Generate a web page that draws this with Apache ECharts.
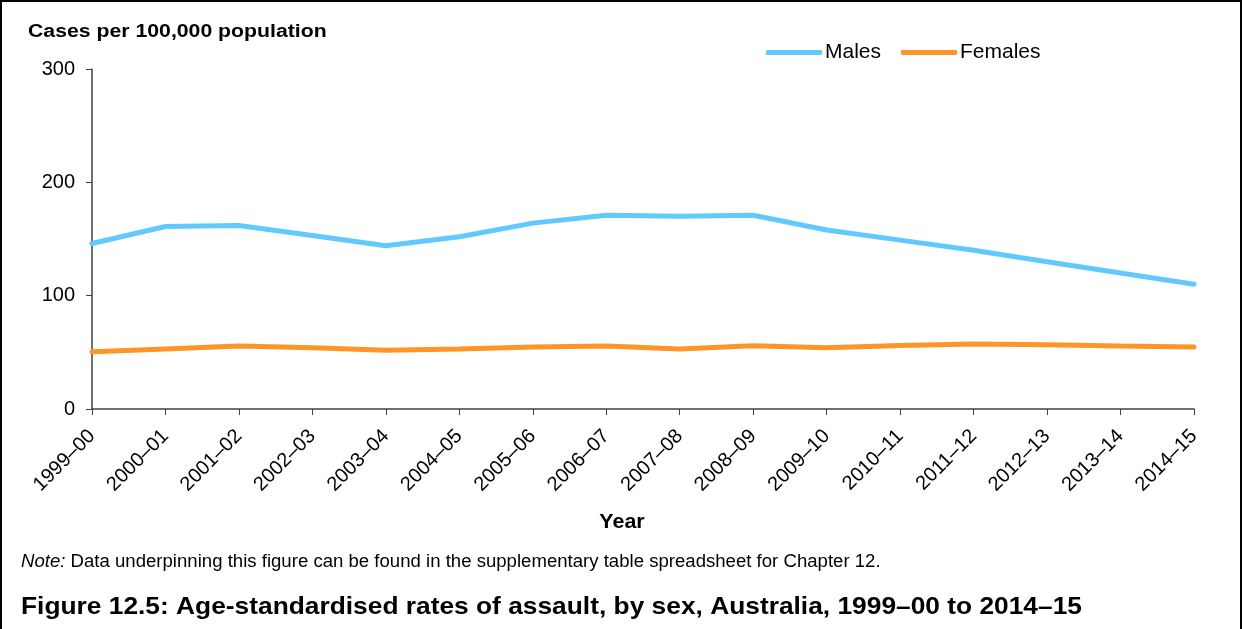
<!DOCTYPE html>
<html><head><meta charset="utf-8">
<script src="https://cdn.jsdelivr.net/npm/echarts@6/dist/echarts.min.js"></script>
<style>
html,body{margin:0;padding:0;background:#fff;}
#wrap{position:absolute;left:0;top:0;width:1242px;height:629px;box-sizing:border-box;border-left:2px solid #000;border-top:2px solid #000;border-right:2px solid #000;}
#chart{position:absolute;left:0;top:0;width:1242px;height:629px;}
</style></head>
<body>
<div id="wrap"></div>
<div id="chart"></div>
<script>
const categories = ["1999–00","2000–01","2001–02","2002–03","2003–04","2004–05","2005–06","2006–07","2007–08","2008–09","2009–10","2010–11","2011–12","2012–13","2013–14","2014–15"];
const males   = [146,161,162,153,144,152,164,171,170,171,158,149,140,130,120,110];
const females = [50.5,53,55.5,54,51.8,53,54.7,55.6,53,55.9,54,56,57.4,56.7,55.6,54.7];
const yTicks = [0,100,200,300];

const font = '"Liberation Sans", Arial, sans-serif';
const chart = echarts.init(document.getElementById('chart'), null, {renderer:'canvas'});
chart.setOption({
  animation:false,
  backgroundColor:'transparent',
  textStyle:{fontFamily:font,color:'#000'},
  legend:{
    left:761, top:37, itemWidth:56, itemHeight:5, itemGap:20, icon:'roundRect',
    textStyle:{fontFamily:font,fontSize:21,color:'#000',padding:[0,0,0,-2]},
    data:['Males','Females']
  },
  grid:{left:92, right:48, top:69, bottom:220, containLabel:false},
  xAxis:{
    type:'category', data:categories, boundaryGap:false,
    axisLine:{lineStyle:{color:'#404040',width:1.5}},
    axisTick:{show:true,length:6,alignWithLabel:true,lineStyle:{color:'#404040'}},
    axisLabel:{rotate:45,fontFamily:font,fontSize:20,color:'#000',margin:24,interval:0}
  },
  yAxis:{
    type:'value', min:yTicks[0], max:yTicks[yTicks.length-1], interval:100,
    axisLine:{show:true,lineStyle:{color:'#404040',width:1.5}},
    axisTick:{show:true,length:6,inside:false,lineStyle:{color:'#404040'}},
    splitLine:{show:false},
    axisLabel:{fontFamily:font,fontSize:20,color:'#000',margin:17}
  },
  graphic:[
    {type:'text',x:28,y:32,scaleX:1.18,style:{text:'Cases per 100,000 population',fontFamily:font,fontSize:18,fontWeight:'bold',fill:'#000',align:'left',verticalAlign:'middle'}},
    {type:'text',x:622,y:523,scaleX:1.1,style:{text:'Year',fontFamily:font,fontSize:19.5,fontWeight:'bold',fill:'#000',align:'center',verticalAlign:'middle'}},
    {type:'text',x:21,y:562,scaleX:1.062,style:{text:'{i|Note:} Data underpinning this figure can be found in the supplementary table spreadsheet for Chapter 12.',fontFamily:font,fontSize:17.5,fill:'#000',align:'left',verticalAlign:'middle',rich:{i:{fontFamily:font,fontSize:17.5,fontStyle:'italic',fill:'#000'}}}},
    {type:'text',x:21,y:607,scaleX:1.097,style:{text:'Figure 12.5: Age-standardised rates of assault, by sex, Australia, 1999–00 to 2014–15',fontFamily:font,fontSize:24,fontWeight:'bold',fill:'#000',align:'left',verticalAlign:'middle'}}
  ],
  series:[
    {name:'Males',type:'line',data:males,showSymbol:false,symbol:'none',lineStyle:{color:'#62C9FF',width:5,cap:'round'},itemStyle:{color:'#62C9FF'}},
    {name:'Females',type:'line',data:females,showSymbol:false,symbol:'none',lineStyle:{color:'#FF9428',width:5,cap:'round'},itemStyle:{color:'#FF9428'}}
  ]
});
</script>
</body></html>
